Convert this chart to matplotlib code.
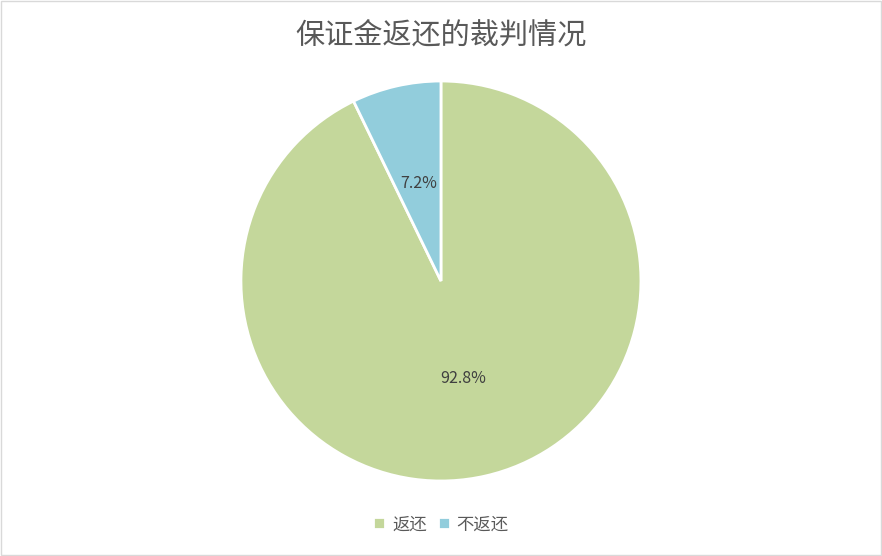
import matplotlib.pyplot as plt
from matplotlib.patches import Rectangle

plt.rcParams['font.family'] = ['Noto Sans CJK SC', 'DejaVu Sans']

labels = ["返还", "不返还"]
shares = [92.8, 7.2]
colors = ["#C4D79B", "#92CDDC"]
title = "保证金返还的裁判情况"

fig = plt.figure(figsize=(8.82, 5.56), dpi=100)
fig.patches.append(Rectangle((0.001, 0.001), 0.998, 0.997, transform=fig.transFigure,
                             fill=False, edgecolor="#D9D9D9", linewidth=1))

ax = fig.add_axes([0.2732, 0.1349, 0.4535, 0.7194])
wedges, _, autotexts = ax.pie(
    shares,
    colors=colors,
    startangle=90,
    counterclock=False,
    autopct="%.1f%%",
    pctdistance=0.5,
    radius=1.01,
    wedgeprops=dict(edgecolor="white", linewidth=2),
    textprops=dict(color="#404040", fontsize=11.5),
)
ax.set_aspect("equal")
ax.set_xlim(-1.01, 1.01)
ax.set_ylim(-1.01, 1.01)

fig.text(0.5, 0.937, title, ha="center", va="center", fontsize=21, color="#595959")

fig.legend(wedges, labels, loc="center", bbox_to_anchor=(0.5, 0.057), ncol=2,
           frameon=False, fontsize=12.5, handlelength=0.7, handleheight=0.7,
           handletextpad=0.4, columnspacing=0.6, labelcolor="#595959")

fig.savefig("out.png", dpi=100)
